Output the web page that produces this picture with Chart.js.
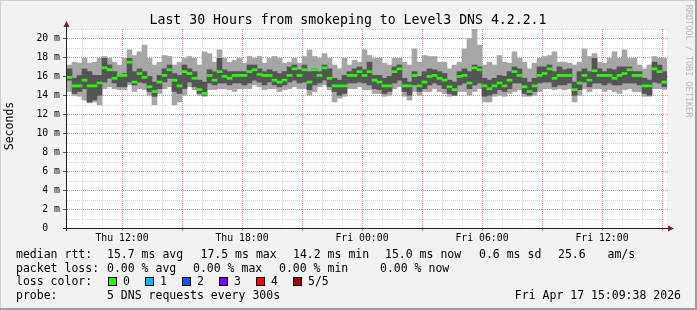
<!DOCTYPE html>
<html>
<head>
<meta charset="utf-8">
<script src="https://cdn.jsdelivr.net/npm/chart.js@4.4.1/dist/chart.umd.min.js"></script>
<style>
  html, body { margin: 0; padding: 0; background: #f2f2f2; }
  canvas { display: block; }
</style>
</head>
<body>
<canvas id="smokeChart" width="697" height="310"></canvas>
<script>
// intervalli da 15 minuti, ore contate da Thu 00:00 (09:15 -> Fri 15:15)
const binStart = 9.25;
const binHours = 0.25;

// mediana rtt (ms) per intervallo
const median = [
  15.9, 15.0, 15.0, 15.6, 15.0, 15.0, 15.3, 16.9, 16.7, 15.8,
  16.1, 16.1, 17.5, 15.4, 16.3, 15.9, 14.9, 14.4, 15.4, 16.1,
  16.7, 15.6, 15.0, 16.5, 16.3, 15.8, 14.6, 14.2, 16.1, 15.6,
  16.5, 16.0, 15.8, 16.1, 16.1, 16.1, 16.5, 16.7, 16.2, 16.1,
  16.1, 15.6, 15.4, 15.6, 16.1, 16.8, 16.1, 16.7, 15.4, 16.7,
  16.1, 16.9, 15.8, 15.0, 15.0, 15.0, 16.1, 16.1, 16.5, 16.1,
  16.5, 15.6, 15.4, 15.0, 15.0, 16.5, 16.8, 15.0, 15.0, 16.1,
  15.0, 15.4, 16.0, 16.1, 15.8, 15.6, 14.9, 14.6, 16.0, 16.1,
  15.3, 16.9, 16.7, 15.0, 14.7, 15.0, 15.3, 15.0, 15.6, 16.5,
  16.1, 14.9, 14.4, 15.0, 16.1, 16.3, 16.8, 15.8, 16.1, 16.1,
  16.1, 14.6, 15.3, 16.1, 15.6, 16.6, 16.1, 16.1, 16.1, 15.8,
  16.1, 16.3, 16.7, 16.1, 16.1, 15.0, 15.0, 16.8, 16.5, 15.4
];

// fumo scuro (ping centrali)
const darkHi = [
  16.8, 15.8, 16.1, 16.8, 16.5, 16.1, 16.1, 17.9, 17.2, 16.5,
  16.1, 16.3, 17.9, 16.5, 16.8, 16.5, 16.0, 15.4, 16.1, 16.8,
  17.2, 16.3, 16.1, 17.2, 16.8, 16.5, 15.6, 15.4, 16.7, 16.5,
  17.9, 16.7, 16.5, 16.5, 16.5, 16.5, 17.2, 17.2, 16.8, 16.5,
  16.7, 16.5, 16.3, 16.5, 17.0, 17.2, 16.7, 17.2, 16.5, 16.8,
  16.5, 17.2, 16.8, 15.8, 15.6, 16.1, 16.5, 16.8, 17.0, 16.7,
  17.5, 16.1, 16.1, 15.8, 16.0, 17.0, 17.2, 15.8, 15.4, 16.5,
  16.0, 16.5, 16.8, 16.7, 16.5, 16.3, 15.6, 15.4, 16.5, 16.8,
  16.5, 17.2, 17.0, 15.8, 15.6, 15.8, 16.1, 16.0, 16.5, 17.0,
  16.8, 15.8, 15.4, 15.8, 17.0, 17.0, 17.2, 16.5, 17.0, 16.7,
  16.8, 15.4, 16.5, 16.8, 16.5, 17.9, 16.8, 16.5, 16.8, 16.7,
  17.0, 17.0, 17.0, 16.5, 16.5, 15.8, 15.6, 17.5, 17.2, 16.5
];
const darkLo = [
  15.6, 14.2, 14.4, 14.7, 13.3, 13.5, 14.0, 15.4, 15.8, 15.3,
  14.9, 14.9, 15.4, 15.1, 15.4, 15.3, 14.4, 13.9, 14.7, 15.4,
  15.8, 14.4, 14.2, 14.7, 15.4, 14.9, 14.2, 14.0, 15.3, 15.1,
  15.3, 15.3, 15.1, 15.3, 15.3, 15.1, 15.3, 15.6, 15.4, 15.1,
  15.4, 15.1, 14.9, 15.1, 15.4, 15.6, 15.3, 15.4, 14.6, 15.1,
  15.3, 15.6, 14.9, 14.4, 14.0, 14.2, 15.3, 15.3, 15.4, 15.3,
  15.1, 14.7, 14.6, 14.2, 14.4, 15.3, 15.6, 14.4, 14.0, 15.1,
  14.4, 14.7, 15.1, 15.3, 15.1, 14.7, 14.2, 14.0, 15.1, 15.3,
  14.7, 15.1, 15.3, 13.9, 14.0, 14.2, 14.6, 14.4, 14.7, 15.3,
  15.3, 14.2, 14.0, 14.4, 15.3, 15.4, 15.4, 14.9, 15.1, 15.1,
  15.3, 14.0, 14.6, 15.4, 14.9, 15.3, 15.3, 15.1, 15.3, 15.1,
  15.1, 15.3, 15.3, 15.3, 15.1, 14.2, 14.0, 15.4, 15.3, 14.9
];

// fumo chiaro (min / max dei ping)
const lightHi = [
  17.2, 17.5, 17.4, 17.9, 17.4, 17.5, 17.9, 18.1, 17.9, 17.5,
  17.2, 17.9, 18.8, 18.2, 18.6, 19.3, 17.9, 17.2, 17.5, 18.2,
  18.1, 17.2, 17.5, 17.9, 18.1, 17.9, 17.2, 18.6, 18.4, 17.5,
  18.8, 17.9, 17.5, 17.7, 17.9, 17.4, 18.1, 17.9, 18.1, 17.4,
  17.9, 18.1, 17.9, 17.4, 17.5, 17.9, 17.4, 18.1, 18.8, 18.1,
  17.9, 18.4, 17.9, 17.2, 16.8, 17.9, 17.2, 17.7, 17.5, 18.8,
  18.2, 17.9, 17.9, 17.4, 17.2, 17.9, 17.9, 17.5, 17.2, 18.9,
  17.5, 18.2, 18.1, 18.1, 17.5, 17.5, 16.8, 17.2, 17.5, 18.9,
  20.0, 21.0, 19.3, 17.2, 17.5, 17.2, 18.2, 17.5, 17.4, 18.6,
  17.9, 17.5, 16.8, 17.4, 17.9, 18.1, 18.2, 18.6, 17.5, 17.5,
  17.4, 17.2, 17.5, 18.9, 18.1, 18.4, 17.5, 17.4, 17.9, 18.6,
  17.9, 18.8, 17.9, 17.9, 17.2, 16.8, 17.2, 18.1, 17.9, 17.9
];
const lightLo = [
  14.4, 14.0, 13.9, 13.5, 13.2, 13.3, 13.0, 14.7, 14.9, 14.7,
  14.6, 14.6, 15.1, 14.4, 14.7, 14.6, 14.0, 13.0, 14.2, 14.7,
  14.9, 13.0, 13.3, 14.0, 14.9, 14.6, 14.0, 13.9, 14.6, 14.6,
  14.7, 14.7, 14.6, 14.4, 14.7, 14.7, 14.7, 15.1, 14.9, 14.6,
  14.7, 14.7, 14.4, 14.6, 14.7, 14.9, 14.7, 14.7, 14.0, 14.4,
  14.9, 15.1, 14.6, 13.3, 13.7, 13.9, 14.7, 14.7, 14.9, 14.6,
  14.6, 14.2, 14.2, 13.9, 14.0, 14.7, 14.9, 13.9, 13.5, 14.4,
  14.0, 14.4, 14.4, 14.7, 14.4, 14.2, 13.9, 14.0, 14.4, 14.4,
  14.0, 14.4, 14.7, 13.3, 13.3, 13.9, 14.0, 13.9, 14.2, 14.4,
  14.6, 13.9, 13.9, 14.0, 14.4, 14.7, 14.7, 14.6, 14.7, 14.6,
  14.7, 13.3, 14.0, 14.7, 14.4, 14.7, 14.7, 14.4, 14.6, 14.4,
  14.2, 14.6, 14.7, 14.4, 14.4, 13.9, 13.9, 14.7, 14.7, 14.6
];

// etichette assi
const timeTicks = [12, 18, 24, 30, 36];
const timeLabels = ['Thu 12:00', 'Thu 18:00', 'Fri 00:00', 'Fri 06:00', 'Fri 12:00'];
const yTicks = [0, 2, 4, 6, 8, 10, 12, 14, 16, 18, 20];
const yTickLabels = ['0  ', '2 m', '4 m', '6 m', '8 m', '10 m', '12 m', '14 m', '16 m', '18 m', '20 m'];

// legenda
const lossLabels = ['0', '1', '2', '3', '4', '5/5'];
const lossColors = ['#26ff00', '#00b8ff', '#0059ff', '#7e00ff', '#ff0000', '#a10000'];
const rttStats = ['15.7 ms avg', '17.5 ms max', '14.2 ms min', '15.0 ms now', '0.6 ms sd', '25.6', 'am/s'];
const lossStats = ['0.00 % avg', '0.00 % max', '0.00 % min', '0.00 % now'];

const MONO = 'DejaVu Sans Mono';
const minorGrid = '#d6d6d6';
const majorGrid = '#f28a8a';

const binLabels = median.map((_, i) => binStart + i * binHours);

// griglia punteggiata rrdtool, disegnata sulle scale di Chart.js
function drawGrid(chart) {
  const { ctx, chartArea: a } = chart;
  const xs = chart.scales.x;
  const ys = chart.scales.y;
  ctx.save();
  ctx.lineWidth = 1;
  ctx.setLineDash([1, 1]);
  for (const pass of ['minor', 'major']) {
    ys.ticks.forEach(t => {
      const major = t.value % 2 === 0;
      if (t.value === 0 || (pass === 'major') !== major) return;
      const y = Math.round(ys.getPixelForValue(t.value)) + 0.5;
      ctx.strokeStyle = major ? majorGrid : minorGrid;
      ctx.beginPath();
      ctx.moveTo(a.left, y);
      ctx.lineTo(a.right + 1, y);
      ctx.stroke();
    });
    xs.ticks.forEach(t => {
      const major = t.value % 3 === 0;
      if ((pass === 'major') !== major) return;
      const x = Math.round(xs.getPixelForValue(t.value)) + 0.5;
      ctx.strokeStyle = major ? majorGrid : minorGrid;
      ctx.beginPath();
      ctx.moveTo(x, a.bottom);
      ctx.lineTo(x, a.top);
      ctx.stroke();
    });
  }
  // tacche sugli assi
  ctx.setLineDash([]);
  const y0 = Math.round(ys.getPixelForValue(0));
  xs.ticks.forEach(t => {
    if (t.value % 3 !== 0) return;
    const x = Math.round(xs.getPixelForValue(t.value)) + 0.5;
    ctx.strokeStyle = '#e07070';
    ctx.beginPath();
    ctx.moveTo(x, y0 + 1);
    ctx.lineTo(x, y0 + 3);
    ctx.stroke();
  });
  ys.ticks.forEach(t => {
    if (t.value % 2 !== 0) return;
    const y = Math.round(ys.getPixelForValue(t.value)) + 0.5;
    ctx.strokeStyle = '#555';
    ctx.beginPath();
    ctx.moveTo(a.left - 4, y);
    ctx.lineTo(a.left - 1, y);
    ctx.stroke();
  });
  ctx.restore();
}

// sfondo, cornice, assi e testi stile rrdtool
const rrdFrame = {
  id: 'rrdFrame',
  beforeDraw(chart) {
    const { ctx, chartArea: a, width: w, height: h } = chart;
    ctx.save();
    ctx.fillStyle = '#f2f2f2';
    ctx.fillRect(0, 0, w, h);
    ctx.fillStyle = '#cfcfcf';
    ctx.fillRect(0, 0, w, 1);
    ctx.fillRect(0, 0, 1, h);
    ctx.fillStyle = '#9e9e9e';
    ctx.fillRect(0, h - 2, w, 2);
    ctx.fillRect(w - 2, 0, 2, h);
    ctx.fillStyle = '#ffffff';
    ctx.fillRect(a.left, a.top, a.right - a.left, a.bottom - a.top);
    ctx.restore();
  },
  beforeDatasetsDraw(chart) {
    drawGrid(chart);
  },
  afterDraw(chart) {
    const { ctx } = chart;
    const y0 = Math.round(chart.scales.y.getPixelForValue(0));
    const xl = chart.chartArea.left;
    ctx.save();
    // assi
    ctx.strokeStyle = '#1f1f1f';
    ctx.lineWidth = 1;
    ctx.beginPath();
    ctx.moveTo(xl - 4, y0 + 0.5);
    ctx.lineTo(670, y0 + 0.5);
    ctx.moveTo(xl - 0.5, y0 + 3);
    ctx.lineTo(xl - 0.5, 25);
    ctx.stroke();
    // frecce
    ctx.fillStyle = '#801f1f';
    ctx.beginPath();
    ctx.moveTo(xl - 0.5, 21); ctx.lineTo(xl - 3.5, 27); ctx.lineTo(xl + 2.5, 27);
    ctx.closePath(); ctx.fill();
    ctx.beginPath();
    ctx.moveTo(674, y0 + 0.5); ctx.lineTo(668, y0 - 2.5); ctx.lineTo(668, y0 + 3.5);
    ctx.closePath(); ctx.fill();

    // titolo
    ctx.fillStyle = '#000';
    ctx.textBaseline = 'alphabetic';
    ctx.textAlign = 'center';
    ctx.font = '13.2px "' + MONO + '"';
    ctx.fillText('Last 30 Hours from smokeping to Level3 DNS 4.2.2.1', 348, 24);

    // etichetta asse y
    ctx.font = '11.5px "' + MONO + '"';
    ctx.save();
    ctx.translate(10.5, 126);
    ctx.rotate(-Math.PI / 2);
    ctx.textBaseline = 'middle';
    ctx.fillText('Seconds', 0, 0);
    ctx.restore();

    // firma rrdtool
    ctx.save();
    ctx.fillStyle = '#b8b8b8';
    ctx.font = '8.5px "' + MONO + '"';
    ctx.translate(688, 61);
    ctx.rotate(Math.PI / 2);
    ctx.textBaseline = 'middle';
    ctx.fillText('RRDTOOL / TOBI OETIKER', 0, 0);
    ctx.restore();

    // righe legenda
    ctx.textAlign = 'left';
    ctx.font = '11.5px "' + MONO + '"';
    const rttX = [107, 200.5, 293, 385, 479, 558, 607.5];
    ctx.fillText('median rtt:', 16, 258);
    rttStats.forEach((t, i) => ctx.fillText(t, rttX[i], 258));

    const lossX = [107, 193, 279, 380];
    ctx.fillText('packet loss:', 16, 271.7);
    lossStats.forEach((t, i) => ctx.fillText(t, lossX[i], 271.7));

    ctx.fillText('loss color:', 16, 285.4);
    const boxX = [108, 145, 182, 219, 256, 293];
    lossLabels.forEach((t, i) => {
      ctx.fillStyle = lossColors[i];
      ctx.fillRect(boxX[i] + 0.5, 277.5, 8, 8);
      ctx.strokeStyle = '#000';
      ctx.strokeRect(boxX[i] + 0.5, 277.5, 8, 8);
      ctx.fillStyle = '#000';
      ctx.fillText(t, boxX[i] + 15, 285.4);
    });

    ctx.fillText('probe:', 16, 299);
    ctx.fillText('5 DNS requests every 300s', 107, 299);
    ctx.textAlign = 'right';
    ctx.fillText('Fri Apr 17 15:09:38 2026', 681, 299);
    ctx.restore();
  }
};

const ctx = document.getElementById('smokeChart').getContext('2d');

new Chart(ctx, {
  type: 'bar',
  data: {
    labels: binLabels,
    datasets: [
      {
        label: 'median rtt',
        xAxisID: 'xb',
        data: median.map(v => [v - 0.11, v + 0.11]),
        backgroundColor: lossColors[0],
        order: 0
      },
      {
        label: 'smoke',
        xAxisID: 'xb',
        data: darkLo.map((v, i) => [v, darkHi[i]]),
        backgroundColor: '#555555',
        order: 1
      },
      {
        label: 'smoke range',
        xAxisID: 'xb',
        data: lightLo.map((v, i) => [v, lightHi[i]]),
        backgroundColor: '#a6a6a6',
        order: 2
      }
    ]
  },
  options: {
    responsive: false,
    animation: false,
    devicePixelRatio: 1,
    layout: { padding: { top: 29, right: 30, left: 0, bottom: 0 } },
    datasets: {
      bar: { grouped: false, barPercentage: 1, categoryPercentage: 1, borderWidth: 0 }
    },
    plugins: {
      legend: { display: false },
      title: { display: false },
      tooltip: { enabled: false }
    },
    scales: {
      xb: { type: 'category', display: false },
      x: {
        type: 'linear',
        position: 'bottom',
        offset: false,
        min: binStart,
        max: binStart + median.length * binHours,
        // una tacca per ogni ora intera
        afterBuildTicks: s => {
          s.ticks = [];
          for (let h = Math.ceil(s.min); h < s.max; h++) s.ticks.push({ value: h });
        },
        afterFit: s => { s.height = 82; },
        ticks: {
          autoSkip: false,
          maxRotation: 0,
          padding: 5,
          color: '#000',
          font: { family: MONO, size: 9.8 },
          callback: v => {
            const i = timeTicks.indexOf(v);
            return i < 0 ? '' : timeLabels[i];
          }
        },
        grid: { drawOnChartArea: false, drawTicks: false, offset: false },
        border: { display: false }
      },
      y: {
        min: 0,
        max: 21,
        afterBuildTicks: s => {
          s.ticks = [];
          for (let v = s.min; v <= s.max; v++) s.ticks.push({ value: v });
        },
        afterFit: s => { s.width = 67; },
        ticks: {
          autoSkip: false,
          padding: 7,
          color: '#000',
          font: { family: MONO, size: 9.8 },
          callback: v => {
            const i = yTicks.indexOf(v);
            return i < 0 ? '' : yTickLabels[i];
          }
        },
        grid: { drawOnChartArea: false, drawTicks: false },
        border: { display: false }
      }
    }
  },
  plugins: [rrdFrame]
});
</script>
</body>
</html>
